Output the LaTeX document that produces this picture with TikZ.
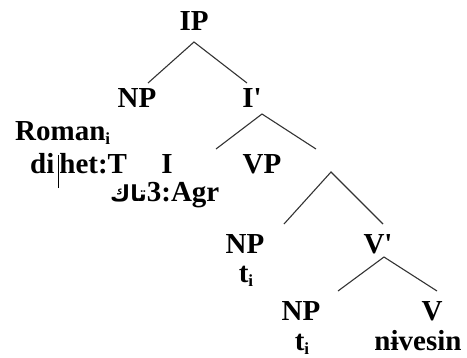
\documentclass[tikz,border=0pt]{standalone}
\usepackage{fontspec}
\setmainfont{Liberation Serif}[Ligatures=TeXOff]
\newfontfamily\arabicfont[Script=Arabic]{DejaVu Sans}
\TeXXeTstate=1
\newcommand{\subi}{\raisebox{-4.5pt}{\fontsize{17}{17}\selectfont i}}
\begin{document}
\begin{tikzpicture}[x=1pt,y=-1pt,
  lbl/.style={anchor=base, inner sep=0pt, font=\fontsize{29}{29}\selectfont\bfseries},
  br/.style={line width=1.1pt, draw=black!80}]
\useasboundingbox (0,0) rectangle (467,357);
% labels
\node[lbl] (ip) at (194,30) {IP};
\node[lbl] (np1) at (137,107) {NP};
\node[lbl] (ibar) at (252,107) {I'};
\node[lbl, anchor=base west] (roman) at (15,140) {Roman\subi};
\node[lbl, anchor=base west] (dihet) at (30,173) {di\hspace{4pt}\makebox[0pt]{\rule[-15pt]{0.8pt}{33pt}}\hspace{1pt}het:T};
\node[lbl] (i) at (167,173) {I};
\node[lbl] (vp) at (262,173) {VP};
\node[lbl, anchor=base west] (agr) at (110,201) {{\fontsize{22}{22}\selectfont\arabicfont\beginR تاك\endR}3:Agr};
\node[lbl] (np2) at (245,253) {NP};
\node[lbl] (t1) at (246,282) {t\subi};
\node[lbl] (vbar) at (378,253) {V'};
\node[lbl] (np3) at (301,320) {NP};
\node[lbl] (t2) at (302,350) {t\subi};
\node[lbl] (v) at (432,320) {V};
\node[lbl] (niv) at (418,350) {nɨvesin};
% branch points
\coordinate (a1) at (194,42);
\coordinate (a1l) at (148,83);
\coordinate (a1r) at (247,83);
\coordinate (a2) at (262,114);
\coordinate (a2l) at (216,149);
\coordinate (a2r) at (316,149);
\coordinate (a3) at (331,172);
\coordinate (a3l) at (284,224);
\coordinate (a3r) at (383,224);
\coordinate (a4) at (384,257);
\coordinate (a4l) at (338,291);
\coordinate (a4r) at (437,291);
\draw[br] (a1l) -- (a1) -- (a1r);
\draw[br] (a2l) -- (a2) -- (a2r);
\draw[br] (a3l) -- (a3) -- (a3r);
\draw[br] (a4l) -- (a4) -- (a4r);
\end{tikzpicture}
\end{document}
